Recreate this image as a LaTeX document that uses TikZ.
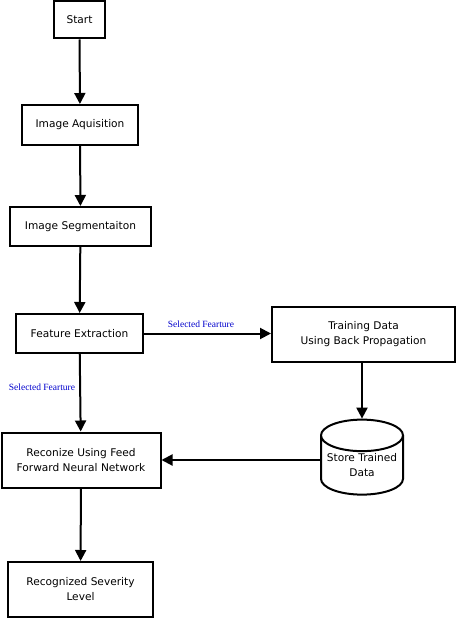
\documentclass[tikz,border=0pt]{standalone}
\usepackage{fontspec}
\setmainfont{DejaVu Sans}
\newfontfamily\labelfont{Liberation Serif}
\usetikzlibrary{arrows.meta,shapes.geometric}
\tikzset{
  stepbox/.style={draw,line width=2pt,align=center,inner sep=0pt,font=\fontsize{10.6}{15}\selectfont},
  arr/.style={line width=2pt,-{Triangle[length=11pt,width=11pt]}},
  featlabel/.style={text=blue!80!black,font=\labelfont\fontsize{9.5}{11}\selectfont}
}
\begin{document}
\begin{tikzpicture}[x=1pt,y=-1pt]
  \useasboundingbox (0,0) rectangle (456,620);
  % boxes of the flow
  \node[stepbox,minimum width=51pt,minimum height=37pt] (start) at (79.5,20) {Start};
  \node[stepbox,minimum width=116pt,minimum height=40pt] (acq) at (80,125) {Image Aquisition};
  \node[stepbox,minimum width=141pt,minimum height=39pt] (seg) at (80.5,226.5) {Image Segmentaiton};
  \node[stepbox,minimum width=127pt,minimum height=39pt] (feat) at (79.5,333.5) {Feature Extraction};
  \node[stepbox,minimum width=183pt,minimum height=55pt] (train) at (363.5,334.5) {Training Data\\Using Back Propagation};
  \node[stepbox,minimum width=159pt,minimum height=55pt] (recog) at (81,460) {Reconize Using Feed\\Forward Neural Network};
  \node[stepbox,cylinder,shape border rotate=90,aspect=0.45,minimum width=82pt,minimum height=75pt] (store) at (362,465.5) {Store Trained\\Data};
  \node[stepbox,minimum width=145pt,minimum height=55pt] (sev) at (80.5,589.5) {Recognized Severity\\Level};
  % connectors
  \draw[arr] (start) -- (acq);
  \draw[arr] (acq) -- (seg);
  \draw[arr] (seg) -- (feat);
  \draw[arr] (feat) -- (feat -| train.west);
  \draw[arr] (feat) -- (recog);
  \draw[arr] (train.south -| store.north) -- (store.north);
  \draw[arr] (recog.east -| store.west) -- (recog.east);
  \draw[arr] (recog) -- (sev);
  % edge labels
  \node[featlabel] (lab1) at (201,324) {Selected Fearture};
  \node[featlabel] (lab2) at (42,387) {Selected Fearture};
\end{tikzpicture}
\end{document}
